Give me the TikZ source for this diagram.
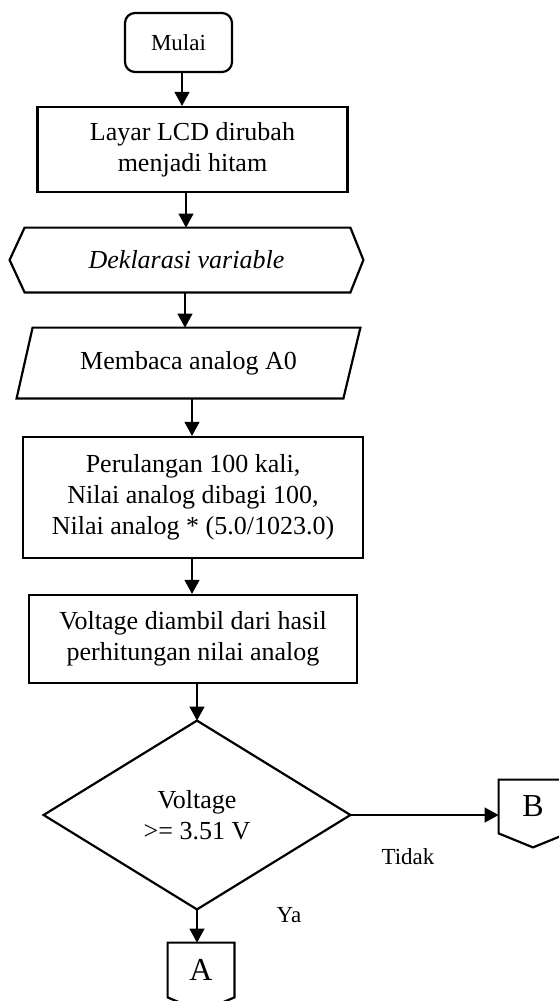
\documentclass[tikz,border=0pt]{standalone}
\usepackage{fontspec}
\setmainfont{Liberation Serif}
\usetikzlibrary{arrows.meta,calc}
\begin{document}
\begin{tikzpicture}[x=0.5pt,y=-0.5pt,
  txt/.style={font=\fontsize{13}{15.5}\selectfont},
  box/.style={draw,line width=1.1pt,inner sep=0pt,align=center,txt},
  ghost/.style={inner sep=0pt,align=center,txt},
  outline/.style={draw,line width=1.1pt,line join=miter},
  arr/.style={line width=0.6pt,-{Triangle[length=7pt,width=7.5pt]}},
  small/.style={font=\fontsize{11.5}{13}\selectfont,inner sep=0pt},
  conn/.style={inner sep=0pt,font=\fontsize{16}{18}\selectfont}]
\useasboundingbox (0,0) rectangle (558,1001);
\fill[white] (0,0) rectangle (558,1001);

% terminator
\node[box,rounded corners=5pt,minimum width=53.5pt,minimum height=29.5pt,
      font=\fontsize{11.5}{13}\selectfont] (mulai) at (178.5,42.5) {Mulai};

% process: clear screen
\node[box,minimum width=155pt,minimum height=42.5pt] (layar) at (192.5,149.5)
  {Layar LCD dirubah\\menjadi hitam};

% preparation (hexagon)
\node[ghost,minimum width=176.5pt,minimum height=32pt,
      font={\fontsize{13}{15.5}\selectfont\itshape}] (dek) at (186.5,260) {Deklarasi variable};
\draw[outline] (dek.west) -- ([xshift=7.5pt]dek.north west) -- ([xshift=-6.5pt]dek.north east)
  -- (dek.east) -- ([xshift=-6.5pt]dek.south east) -- ([xshift=7.5pt]dek.south west) -- cycle;

% input (parallelogram)
\node[ghost,minimum width=171.5pt,minimum height=35pt] (par) at (188.5,363) {Membaca analog A0};
\draw[outline] ([xshift=8pt]par.north west) -- (par.north east)
  -- ([xshift=-8.5pt]par.south east) -- (par.south west) -- cycle;

% averaging loop
\node[box,minimum width=170pt,minimum height=60.5pt] (per) at (193,497.5)
  {Perulangan 100 kali,\\Nilai analog dibagi 100,\\Nilai analog * (5.0/1023.0)};

% voltage result
\node[box,minimum width=164pt,minimum height=44pt] (vol) at (193,639)
  {Voltage diambil dari hasil\\perhitungan nilai analog};

% decision
\node[ghost,minimum width=153pt,minimum height=94pt] (dia) at (197,815) {Voltage\\>= 3.51 V};
\draw[outline] (dia.north) -- (dia.east) -- (dia.south) -- (dia.west) -- cycle;

% off-page connectors
\node[conn,minimum width=34pt,minimum height=26.5pt] (bcon) at (533,806.5) {B};
\draw[outline] (bcon.south west) -- (bcon.north west) -- (bcon.north east)
  -- (bcon.south east) -- ($(bcon.south)+(0,14)$) -- cycle;

\node[conn,minimum width=33pt,minimum height=27pt] (acon) at (201,970) {A};
\draw[outline] (acon.south west) -- (acon.north west) -- (acon.north east)
  -- (acon.south east) -- ($(acon.south)+(0,14)$) -- cycle;

% branch labels
\node[small] (tidak) at (408,857) {Tidak};
\node[small] (ya) at (289,915) {Ya};

% flow lines
\draw[arr] ([xshift=1.75pt]mulai.south) -- ([xshift=1.75pt]mulai.south |- layar.north);
\draw[arr] ([xshift=-3.25pt]layar.south) -- ([xshift=-3.25pt]layar.south |- dek.north);
\draw[arr] ([xshift=-0.75pt]dek.south) -- ([xshift=-0.75pt]dek.south |- par.north);
\draw[arr] ([xshift=1.75pt]par.south) -- ([xshift=1.75pt]par.south |- per.north);
\draw[arr] ([xshift=-0.5pt]per.south) -- ([xshift=-0.5pt]per.south |- vol.north);
\draw[arr] ([xshift=2pt]vol.south) -- ([xshift=2pt]vol.south |- dia.north);
\draw[arr] (dia.east) -- (dia.east -| bcon.west);
\draw[arr] (dia.south) -- (dia.south |- acon.north);
\end{tikzpicture}
\end{document}
